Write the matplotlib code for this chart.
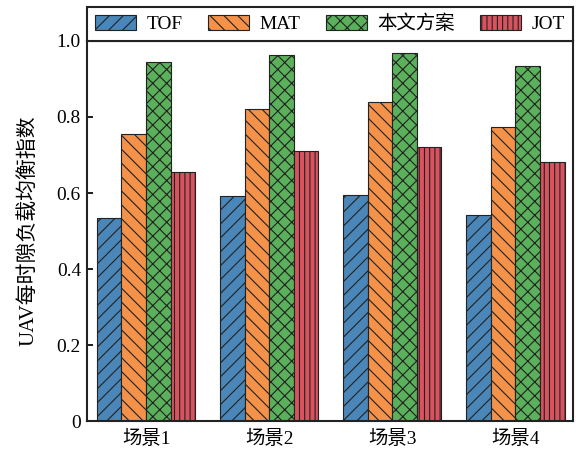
import numpy as np
import matplotlib.pyplot as plt

plt.rcParams['font.family'] = ['Liberation Serif', 'Noto Sans CJK SC']
plt.rcParams['hatch.linewidth'] = 0.65

scenes = ['场景1', '场景2', '场景3', '场景4']
methods = ['TOF', 'MAT', '本文方案', 'JOT']
tof = [0.535, 0.592, 0.594, 0.542]
mat = [0.756, 0.821, 0.839, 0.773]
ours = [0.945, 0.964, 0.968, 0.935]
jot = [0.655, 0.711, 0.721, 0.683]

colors = ['#4a87b8', '#f5924a', '#5bb05b', '#d9535f']
hatches = ['///', '\\\\\\', 'xxx', '||||']

# 125 dpi so the hatch spacing comes out like the original
fig = plt.figure(figsize=(4.608, 3.632), dpi=125)
ax = fig.add_axes([0.151, 0.0716, 0.844, 0.8384])

x = np.arange(len(scenes))
w = 0.2
for i, vals in enumerate([tof, mat, ours, jot]):
    ax.bar(x + (i - 1.5) * w, vals, w, color=colors[i], hatch=hatches[i],
           edgecolor='#222222', linewidth=0.65, label=methods[i])

ax.set_xlim(-0.48, 3.47)
ax.set_ylim(0, 1.0)
ax.set_xticks(x)
ax.set_xticklabels(scenes, fontsize=11.2)
ax.set_yticks([0, 0.2, 0.4, 0.6, 0.8, 1.0])
ax.set_yticklabels(['0', '0.2', '0.4', '0.6', '0.8', '1.0'], fontsize=11.2)
ax.tick_params(axis='y', direction='in', length=3.2, width=1.0)
ax.tick_params(axis='x', length=0, pad=5)
ax.set_ylabel('UAV每时隙负载均衡指数', fontsize=12, labelpad=10.4)
for s in ax.spines.values():
    s.set_linewidth(1.2)
    s.set_color('#222222')

leg = ax.legend(loc='lower left', bbox_to_anchor=(0, 1.0, 1, 0.0956), mode='expand',
                ncol=4, borderaxespad=0, fancybox=False, edgecolor='#222222',
                fontsize=11.2, handlelength=2.1, handleheight=0.85,
                handletextpad=0.55, borderpad=0.4)
leg.get_frame().set_linewidth(1.2)
leg.get_frame().set_alpha(1)

fig.savefig('out.png', dpi=125)
